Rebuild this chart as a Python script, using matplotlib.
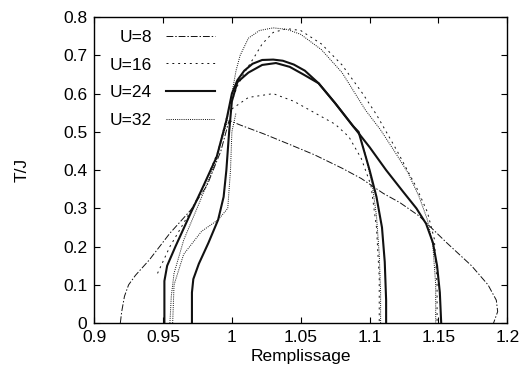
import numpy as np
from matplotlib import pyplot as plt

plt.rcParams['font.family'] = ['Liberation Sans', 'DejaVu Sans']

# U=8 (dash-dot)
u8_x = [0.919, 0.920, 0.922, 0.925, 0.930, 0.940, 0.955, 0.970, 0.982, 0.992, 0.998, 1.006, 1.023,
        1.040, 1.060, 1.080, 1.094, 1.110, 1.122, 1.136, 1.156, 1.174, 1.186, 1.192, 1.193, 1.190]
u8_t = [0.0, 0.03, 0.07, 0.10, 0.125, 0.165, 0.235, 0.295, 0.36, 0.45, 0.53, 0.518, 0.495,
        0.47, 0.44, 0.405, 0.378, 0.339, 0.315, 0.28, 0.21, 0.15, 0.10, 0.06, 0.03, 0.0]

# U=16 (dashes), outer and inner branch
u16_x = [0.946, 0.955, 0.968, 0.980, 0.990, 0.997, 1.004, 1.010, 1.017, 1.022, 1.030, 1.040, 1.050,
         1.065, 1.080, 1.095, 1.105, 1.120, 1.134, 1.142, 1.147, 1.149, 1.149]
u16_t = [0.13, 0.20, 0.28, 0.36, 0.45, 0.55, 0.62, 0.66, 0.70, 0.73, 0.76, 0.770, 0.765,
         0.73, 0.675, 0.60, 0.545, 0.45, 0.355, 0.29, 0.22, 0.10, 0.0]
u16b_x = [1.000, 1.012, 1.030, 1.045, 1.060, 1.075, 1.085, 1.094, 1.101, 1.105, 1.107, 1.107]
u16b_t = [0.56, 0.59, 0.600, 0.58, 0.55, 0.52, 0.487, 0.43, 0.36, 0.25, 0.12, 0.0]

# U=24 (solid), outer and inner branch
u24_x = [0.951, 0.951, 0.953, 0.959, 0.970, 0.979, 0.989, 0.996, 1.000, 1.004, 1.009, 1.015, 1.022,
         1.030, 1.037, 1.045, 1.053, 1.063, 1.075, 1.088, 1.100, 1.112, 1.124, 1.134, 1.141, 1.146,
         1.149, 1.151, 1.152]
u24_t = [0.0, 0.11, 0.15, 0.20, 0.287, 0.356, 0.435, 0.53, 0.60, 0.635, 0.660, 0.678, 0.688,
         0.689, 0.686, 0.676, 0.660, 0.627, 0.575, 0.515, 0.46, 0.40, 0.345, 0.30, 0.26, 0.21,
         0.15, 0.08, 0.0]
u24b_x = [0.971, 0.971, 0.972, 0.976, 0.983, 0.990, 0.994, 0.996, 0.998, 1.000, 1.004, 1.012,
          1.022, 1.032, 1.042, 1.052, 1.063, 1.075, 1.088, 1.092, 1.096, 1.100, 1.105, 1.109,
          1.111, 1.112, 1.112]
u24b_t = [0.0, 0.08, 0.115, 0.155, 0.21, 0.27, 0.33, 0.40, 0.50, 0.58, 0.630, 0.655,
          0.675, 0.680, 0.670, 0.650, 0.627, 0.575, 0.515, 0.50, 0.45, 0.40, 0.33, 0.25,
          0.16, 0.06, 0.0]

# U=32 (fine dots), outer and inner branches
u32_x = [0.955, 0.956, 0.958, 0.965, 0.977, 0.988, 0.996, 1.000, 1.003, 1.006, 1.012, 1.020, 1.030,
         1.040, 1.050, 1.065, 1.080, 1.097, 1.108, 1.119, 1.128, 1.136, 1.142, 1.146, 1.148, 1.148]
u32_t = [0.0, 0.07, 0.13, 0.217, 0.32, 0.42, 0.52, 0.60, 0.66, 0.70, 0.745, 0.765, 0.772,
         0.768, 0.755, 0.715, 0.655, 0.557, 0.505, 0.444, 0.392, 0.33, 0.27, 0.20, 0.10, 0.0]
u32b_x = [0.957, 0.958, 0.965, 0.978, 0.990, 0.997, 0.999, 1.000, 1.003]
u32b_t = [0.0, 0.10, 0.18, 0.24, 0.27, 0.30, 0.40, 0.50, 0.55]
u32c_x = [1.092, 1.097, 1.102, 1.105, 1.107, 1.108, 1.108]
u32c_t = [0.50, 0.44, 0.36, 0.28, 0.18, 0.08, 0.0]

fig = plt.figure(figsize=(5.29, 3.81), dpi=100)
ax = fig.add_axes([0.178, 0.152, 0.781, 0.803])

k = '#111111'
s8 = (0, (7, 2, 1.5, 2))
s16 = (0, (2, 4))
s32 = (0, (1, 1.2))
ax.plot(u8_x, u8_t, color=k, lw=0.7, ls=s8, label='U=8')
ax.plot(u16_x, u16_t, color=k, lw=0.7, ls=s16, label='U=16')
ax.plot(u16b_x, u16b_t, color=k, lw=0.7, ls=s16)
ax.plot(u24_x, u24_t, color=k, lw=1.5, label='U=24')
ax.plot(u24b_x, u24b_t, color=k, lw=1.5)
ax.plot(u32_x, u32_t, color=k, lw=0.7, ls=s32, label='U=32')
ax.plot(u32b_x, u32b_t, color=k, lw=0.7, ls=s32)
ax.plot(u32c_x, u32c_t, color=k, lw=0.7, ls=s32)

ax.set_xlim(0.9, 1.2)
ax.set_ylim(0, 0.8)
ax.set_xticks([0.9, 0.95, 1.0, 1.05, 1.1, 1.15, 1.2])
ax.set_xticklabels(['0.9', '0.95', '1', '1.05', '1.1', '1.15', '1.2'])
ax.set_yticks(np.arange(0, 0.81, 0.1))
ax.set_yticklabels(['0', '0.1', '0.2', '0.3', '0.4', '0.5', '0.6', '0.7', '0.8'])
ax.tick_params(direction='in', top=True, right=True, labelsize=12.5, length=4, pad=5)
for sp in ax.spines.values():
    sp.set_linewidth(1.0)

ax.set_xlabel('Remplissage', fontsize=12.5, labelpad=3)
ax.set_ylabel('T/J', fontsize=12.5, labelpad=24)

ax.legend(loc='upper left', bbox_to_anchor=(0.0, 1.01), markerfirst=False, frameon=False,
          fontsize=12.5, handlelength=2.8, labelspacing=0.72, handletextpad=0.8)

plt.savefig('out.png', dpi=100)
